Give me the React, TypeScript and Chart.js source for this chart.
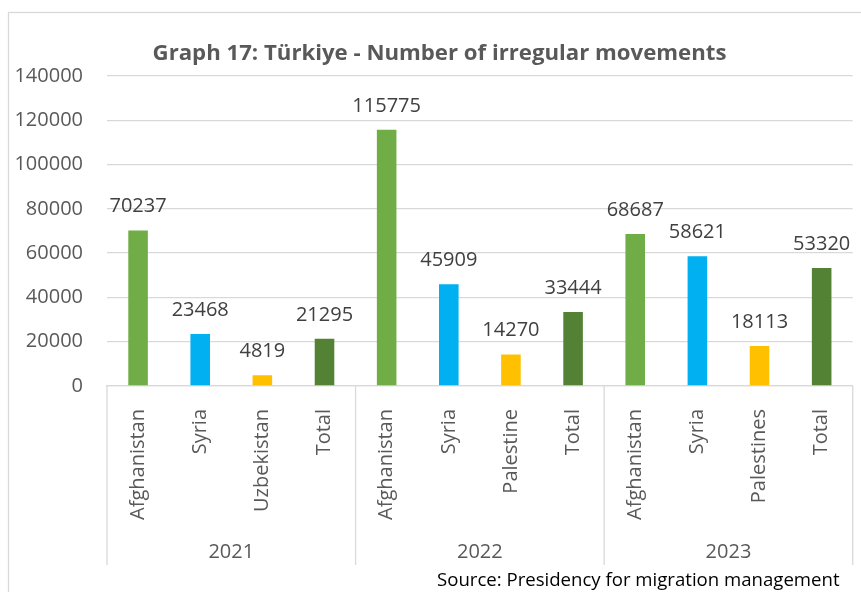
import React, { useEffect, useRef } from "react";
import { Chart, registerables } from "chart.js";

Chart.register(...registerables);

// ---- data ----
const categories = [
  "Afghanistan", "Syria", "Uzbekistan", "Total",
  "Afghanistan", "Syria", "Palestine", "Total",
  "Afghanistan", "Syria", "Palestines", "Total",
];
const values = [70237, 23468, 4819, 21295, 115775, 45909, 14270, 33444, 68687, 58621, 18113, 53320];
const groupYears = ["2021", "2022", "2023"];
const groupCounts = [4, 4, 4];
const yMin = 0;
const yMax = 140000;
const yStep = 20000;
const titleText = "Graph 17: Türkiye - Number of irregular movements";
const sourceText = "Source: Presidency for migration management";

// ---- styles ----
const FONT = "'Open Sans', sans-serif";
const GRID = "#d9d9d9";
const AXIS_TEXT = "#595959";
const LABEL_TEXT = "#404040";

function colorFor(cat: string): string {
  if (cat === "Afghanistan") return "#70ad47";
  if (cat === "Syria") return "#00b0f0";
  if (cat === "Total") return "#548235";
  return "#ffc000";
}

const overlay = {
  id: "overlay",
  beforeDraw(chart: any) {
    const ctx = chart.ctx;
    ctx.save();
    ctx.fillStyle = "#ffffff";
    ctx.fillRect(0, 0, chart.width, chart.height);
    ctx.strokeStyle = GRID;
    ctx.lineWidth = 1.3;
    ctx.strokeRect(8.5, 12.5, 2000, 2000);
    ctx.restore();
  },
  afterDatasetsDraw(chart: any) {
    const ctx = chart.ctx;
    const meta = chart.getDatasetMeta(0);
    ctx.save();
    ctx.font = `20px ${FONT}`;
    ctx.fillStyle = LABEL_TEXT;
    ctx.textAlign = "center";
    ctx.textBaseline = "alphabetic";
    meta.data.forEach((bar: any, i: number) => {
      ctx.fillText(String(values[i]), bar.x, bar.y - 18);
    });
    ctx.restore();
  },
  afterDraw(chart: any) {
    const ctx = chart.ctx;
    const xs = chart.scales.x;
    ctx.save();
    // group separators and year labels
    ctx.strokeStyle = GRID;
    ctx.lineWidth = 1.3;
    let start = 0;
    const bottom = 565;
    const bounds: number[] = [xs.getPixelForValue(-0.5)];
    groupCounts.forEach((n) => {
      start += n;
      bounds.push(xs.getPixelForValue(start - 0.5));
    });
    bounds.forEach((bx) => {
      ctx.beginPath();
      ctx.moveTo(bx, xs.top);
      ctx.lineTo(bx, bottom);
      ctx.stroke();
    });
    ctx.font = `20px ${FONT}`;
    ctx.fillStyle = AXIS_TEXT;
    ctx.textAlign = "center";
    ctx.textBaseline = "alphabetic";
    groupYears.forEach((yr, g) => {
      ctx.fillText(yr, (bounds[g] + bounds[g + 1]) / 2, 558);
    });
    // title
    ctx.font = `bold 22.2px ${FONT}`;
    ctx.fillStyle = AXIS_TEXT;
    ctx.fillText(titleText, 439.5, 60);
    // source
    ctx.font = `18.6px ${FONT}`;
    ctx.fillStyle = "#000000";
    ctx.textAlign = "left";
    ctx.fillText(sourceText, 437, 586);
    ctx.restore();
  },
};

export default function App() {
  const ref = useRef<HTMLCanvasElement>(null);
  useEffect(() => {
    let chart: Chart | null = null;
    let cancelled = false;
    const make = () => {
      if (cancelled || !ref.current) return;
      chart = new Chart(ref.current, {
        type: "bar",
        data: {
          labels: categories,
          datasets: [
            {
              data: values,
              backgroundColor: categories.map((c) => colorFor(c)),
              borderWidth: 0,
              categoryPercentage: 1,
              barPercentage: 0.315,
            },
          ],
        },
        options: {
          responsive: false,
          animation: false,
          layout: { padding: { top: 76, right: 8, bottom: 0, left: 0 } },
          plugins: {
            legend: { display: false },
            title: { display: false },
            tooltip: { enabled: false },
          },
          scales: {
            x: {
              grid: { display: false },
              border: { display: true, color: GRID, width: 1.3 },
              ticks: {
                autoSkip: false,
                maxRotation: 90,
                minRotation: 90,
                padding: 15,
                color: AXIS_TEXT,
                font: { family: FONT, size: 20 },
              },
              afterFit: (s: any) => {
                s.height = 206;
              },
            },
            y: {
              min: yMin,
              max: yMax,
              grid: { color: GRID, lineWidth: 1.3, drawTicks: false },
              border: { display: false },
              ticks: {
                stepSize: yStep,
                padding: 24,
                color: AXIS_TEXT,
                font: { family: FONT, size: 20 },
                callback: (v: any) => String(v),
              },
              afterFit: (s: any) => {
                s.width = 107;
              },
            },
          },
        },
        plugins: [overlay],
      });
    };
    if ((document as any).fonts && (document as any).fonts.load) {
      Promise.all([
        (document as any).fonts.load(`20px "Open Sans"`),
        (document as any).fonts.load(`bold 20px "Open Sans"`),
      ]).then(make, make);
    } else {
      make();
    }
    return () => {
      cancelled = true;
      if (chart) chart.destroy();
    };
  }, []);
  return (
    <div style={{ position: "absolute", left: 0, top: 0, width: 861, height: 592, background: "#fff" }}>
      <canvas ref={ref} width={861} height={592} style={{ display: "block" }} />
    </div>
  );
}
